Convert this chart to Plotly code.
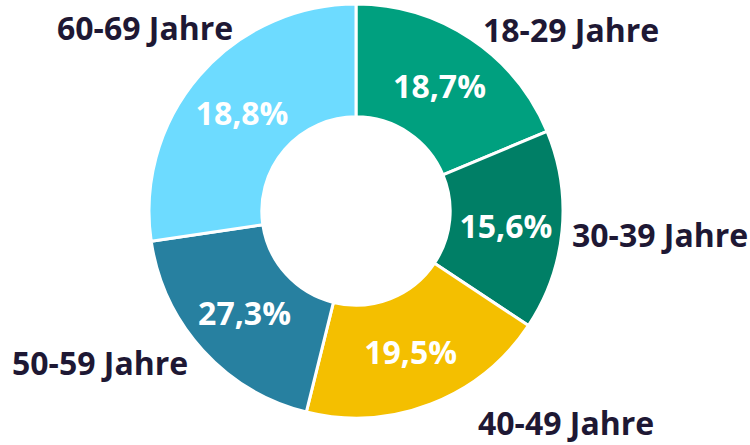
import plotly.graph_objects as go

# Altersgruppen; Segmentgrößen wie im Bild, Prozentangaben wie beschriftet
labels = ["18-29 Jahre", "30-39 Jahre", "40-49 Jahre", "50-59 Jahre", "60-69 Jahre"]
values = [18.7, 15.6, 19.5, 18.8, 27.3]
pct_text = ["18,7%", "15,6%", "19,5%", "27,3%", "18,8%"]
colors = ["#00a07f", "#007f66", "#f4bf00", "#2780a0", "#6ddbff"]

# Position der Außenbeschriftungen (Pixel von oben links)
label_xy = [(571, 30), (660, 234), (566, 422), (100, 362), (145, 28)]

TEXT_DARK = "#1e1834"
FONT = "Open Sans"

W, H = 750, 445
cx, cy, r = 356, 211, 207

fig = go.Figure(go.Pie(
    labels=labels,
    values=values,
    text=pct_text,
    hole=0.455,
    sort=False,
    direction="clockwise",
    rotation=0,
    domain=dict(
        x=[(cx - r) / W, (cx + r) / W],
        y=[(H - cy - r) / H, (H - cy + r) / H],
    ),
    marker=dict(colors=colors, line=dict(color="white", width=3)),
    texttemplate="%{text}",
    textposition="inside",
    insidetextorientation="horizontal",
    textfont=dict(family=FONT, size=32, color="white", weight="bold"),
    hoverinfo="skip",
    showlegend=False,
))

for lab, (x, y) in zip(labels, label_xy):
    fig.add_annotation(
        text=lab, x=x / W, y=1 - y / H, xref="paper", yref="paper",
        xanchor="center", yanchor="middle", showarrow=False,
        font=dict(family=FONT, size=32, color=TEXT_DARK, weight="bold"),
    )

fig.update_layout(
    width=W,
    height=H,
    margin=dict(l=0, r=0, t=0, b=0),
    paper_bgcolor="white",
    plot_bgcolor="white",
    font=dict(family=FONT),
)

fig.write_html(
    "out.html",
    config={"displayModeBar": False},
    post_script="document.body.style.margin='0';",
)
